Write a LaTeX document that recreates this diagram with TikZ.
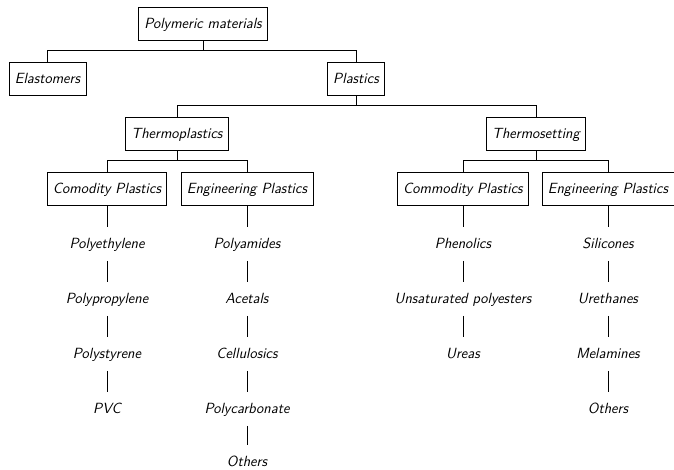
\documentclass[tikz,border=0pt]{standalone}
\begin{document}
\begin{tikzpicture}[x=0.746pt,y=-0.746pt,
  font=\fontsize{11}{13}\sffamily\slshape,
  box/.style={draw, line width=0.5pt, inner xsep=4.3pt, inner ysep=7pt, text height=8.9pt, text depth=1.7pt},
  leaf/.style={inner xsep=4.3pt, inner ysep=7pt, text height=8.9pt, text depth=1.7pt},
  link/.style={line width=0.5pt}]
\useasboundingbox (0,0) rectangle (674,469);
% boxes
\node[box] (pm) at (203,23.5) {Polymeric materials};
\node[box] (el) at (47.5,78.5) {Elastomers};
\node[box] (pl) at (356,78.5) {Plastics};
\node[box] (tp) at (177,133.5) {Thermoplastics};
\node[box] (ts) at (536,133.5) {Thermosetting};
\node[box] (cp) at (107,189) {Comodity Plastics};
\node[box] (ep) at (247,189) {Engineering Plastics};
\node[box] (cr) at (463,189) {Commodity Plastics};
\node[box] (er) at (608,189) {Engineering Plastics};
% leaves
\node[leaf] (a1) at (107,244) {Polyethylene};
\node[leaf] (a2) at (107,299) {Polypropylene};
\node[leaf] (a3) at (107,354) {Polystyrene};
\node[leaf] (a4) at (107,409) {PVC};
\node[leaf] (b1) at (247,244) {Polyamides};
\node[leaf] (b2) at (247,299) {Acetals};
\node[leaf] (b3) at (247,354) {Cellulosics};
\node[leaf] (b4) at (247,409) {Polycarbonate};
\node[leaf] (b5) at (247,461.5) {Others};
\node[leaf] (c1) at (463,244) {Phenolics};
\node[leaf] (c2) at (463,299) {Unsaturated polyesters};
\node[leaf] (c3) at (463,354) {Ureas};
\node[leaf] (d1) at (608,244) {Silicones};
\node[leaf] (d2) at (608,299) {Urethanes};
\node[leaf] (d3) at (608,354) {Melamines};
\node[leaf] (d4) at (608,409) {Others};
% tree connectors
\draw[link] (pm.south) -- ++(0,10) -| (el.north);
\draw[link] (pm.south) -- ++(0,10) -| (pl.north);
\draw[link] (pl.south) -- ++(0,10) -| (tp.north);
\draw[link] (pl.south) -- ++(0,10) -| (ts.north);
\draw[link] (tp.south) -- ++(0,10) -| (cp.north);
\draw[link] (tp.south) -- ++(0,10) -| (ep.north);
\draw[link] (ts.south) -- ++(0,10) -| (cr.north);
\draw[link] (ts.south) -- ++(0,10) -| (er.north);
% chains
\draw[link] (cp.south) -- (a1.north);
\draw[link] (a1.south) -- (a2.north);
\draw[link] (a2.south) -- (a3.north);
\draw[link] (a3.south) -- (a4.north);
\draw[link] (ep.south) -- (b1.north);
\draw[link] (b1.south) -- (b2.north);
\draw[link] (b2.south) -- (b3.north);
\draw[link] (b3.south) -- (b4.north);
\draw[link] (b4.south) -- (b5.north);
\draw[link] (cr.south) -- (c1.north);
\draw[link] (c1.south) -- (c2.north);
\draw[link] (c2.south) -- (c3.north);
\draw[link] (er.south) -- (d1.north);
\draw[link] (d1.south) -- (d2.north);
\draw[link] (d2.south) -- (d3.north);
\draw[link] (d3.south) -- (d4.north);
\end{tikzpicture}
\end{document}
